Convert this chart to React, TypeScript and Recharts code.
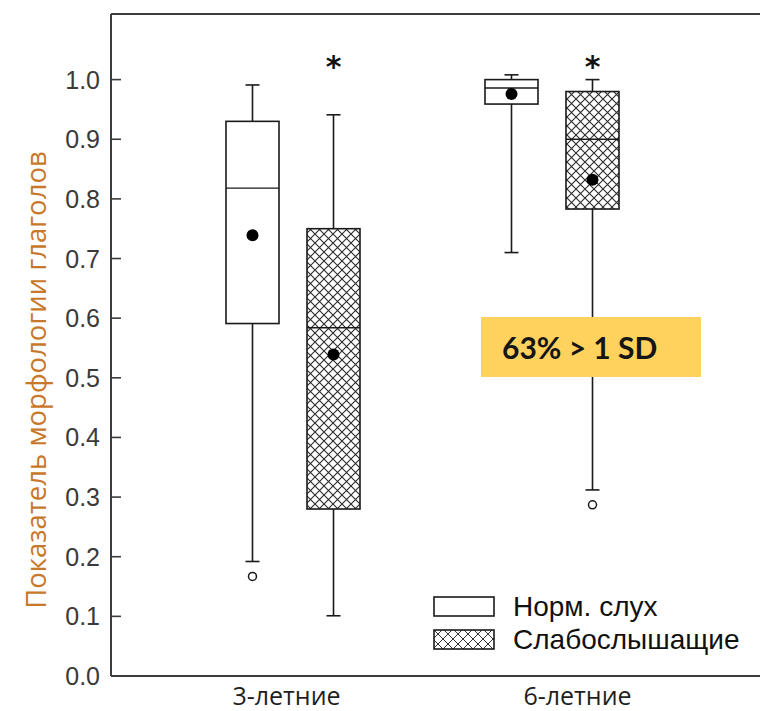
import { BarChart, Bar, XAxis, YAxis, ReferenceLine, Legend, Label } from "recharts";

// ── Data ───────────────────────────────────────────────────────────────────
const groups = ["3-летние", "6-летние"];
const yTicks = [0, 0.1, 0.2, 0.3, 0.4, 0.5, 0.6, 0.7, 0.8, 0.9, 1.0];
const legendLabels = ["Норм. слух", "Слабослышащие"];

// нормально слышащие
const normMin = [0.192, 0.71];
const normQ1 = [0.591, 0.959];
const normMedian = [0.818, 0.986];
const normQ3 = [0.93, 1.0];
const normMax = [0.991, 1.008];
const normMean = [0.739, 0.976];
const normOutliers = [[0.167], []];
const normSignif = [false, false];

// слабослышащие
const hardMin = [0.101, 0.312];
const hardQ1 = [0.28, 0.783];
const hardMedian = [0.584, 0.9];
const hardQ3 = [0.75, 0.98];
const hardMax = [0.941, 1.0];
const hardMean = [0.539, 0.832];
const hardOutliers = [[], [0.287]];
const hardSignif = [true, true];

const Y_MAX = 1.11;
const SIG_LEVEL = 1.028;
const annotation = "63% > 1 SD";

type Stats = {
  min: number; q1: number; med: number; q3: number; max: number;
  mean: number; outliers: number[]; sig: boolean;
};

const data = groups.map((g, i) => {
  const n: Stats = {
    min: normMin[i], q1: normQ1[i], med: normMedian[i], q3: normQ3[i],
    max: normMax[i], mean: normMean[i], outliers: normOutliers[i], sig: normSignif[i],
  };
  const h: Stats = {
    min: hardMin[i], q1: hardQ1[i], med: hardMedian[i], q3: hardQ3[i],
    max: hardMax[i], mean: hardMean[i], outliers: hardOutliers[i], sig: hardSignif[i],
  };
  return {
    group: g,
    n, h,
    nBase: n.min, nRange: n.max - n.min,
    hBase: h.min, hRange: h.max - h.min,
  };
});

const INK = "#1a1a1a";
const AXIS = "#3c3c3c";

// ── Box shape: whisker range bar maps every stat through the bar's scale ──
function BoxShape(props: any) {
  const { x, y, width, height, payload, series, hatched } = props;
  const s: Stats = payload[series];
  const py = (v: number) => y + (height * (s.max - v)) / (s.max - s.min);
  const cx = x + width / 2;
  const cap = 7;
  return (
    <g>
      <line x1={cx} x2={cx} y1={py(s.max)} y2={py(s.min)} stroke={INK} strokeWidth={1.6} />
      <line x1={cx - cap} x2={cx + cap} y1={py(s.max)} y2={py(s.max)} stroke={INK} strokeWidth={1.6} />
      <line x1={cx - cap} x2={cx + cap} y1={py(s.min)} y2={py(s.min)} stroke={INK} strokeWidth={1.6} />
      <rect
        x={x}
        y={py(s.q3)}
        width={width}
        height={py(s.q1) - py(s.q3)}
        fill={hatched ? "url(#hatch)" : "#fff"}
        stroke={INK}
        strokeWidth={1.6}
      />
      <line x1={x} x2={x + width} y1={py(s.med)} y2={py(s.med)} stroke={INK} strokeWidth={1.4} />
      <circle cx={cx} cy={py(s.mean)} r={6} fill="#000" />
      {s.outliers.map((o, k) => (
        <circle key={k} cx={cx} cy={py(o)} r={4} fill="#fff" stroke={INK} strokeWidth={1.5} />
      ))}
      {s.sig && (
        <text x={cx} y={py(SIG_LEVEL)} textAnchor="middle" dominantBaseline="central"
          fontSize={30} fontWeight={700} fontFamily="DejaVu Sans" fill="#111" dy={4}>
          *
        </text>
      )}
    </g>
  );
}

function YTick({ x, y, payload }: any) {
  return (
    <g>
      <text x={x} y={y} textAnchor="end" dominantBaseline="central"
        fontSize={25} fontFamily="Liberation Sans" fill="#3a3a3a">
        {Number(payload.value).toFixed(1)}
      </text>
      <line x1={x + 11} x2={x + 21} y1={y} y2={y} stroke={AXIS} strokeWidth={1.6} />
    </g>
  );
}

const xLabelShift = [-6, 26];
function XTick({ x, y, payload, index }: any) {
  return (
    <text x={x + (xLabelShift[index] ?? 0)} y={y + 27} textAnchor="middle"
      fontSize={25} fontFamily="Open Sans" fill="#1f1f1f">
      {payload.value}
    </text>
  );
}

function YLabel({ viewBox }: any) {
  const cx = viewBox.x + 35;
  const cy = viewBox.y + viewBox.height / 2 + 35;
  return (
    <text x={cx} y={cy} transform={`rotate(-90 ${cx} ${cy})`} textAnchor="middle"
      dominantBaseline="central" fontSize={27.5} fontFamily="Open Sans" fill="#C8782A">
      Показатель морфологии глаголов
    </text>
  );
}

function LegendBox() {
  return (
    <div style={{ fontFamily: "Liberation Sans", fontSize: 28, color: "#111", lineHeight: "33px" }}>
      {legendLabels.map((label, i) => (
        <div key={label} style={{ display: "flex", alignItems: "center", height: 33 }}>
          <svg width={62} height={21} style={{ marginRight: 18 }}>
            <defs>
              <pattern id="hatchLegend" width={10} height={10} patternUnits="userSpaceOnUse">
                <path d="M0 0L10 10M10 0L0 10" stroke="#333" strokeWidth={1} />
              </pattern>
            </defs>
            <rect x={1} y={1} width={60} height={19}
              fill={i === 1 ? "url(#hatchLegend)" : "#fff"} stroke={INK} strokeWidth={1.6} />
          </svg>
          <span>{label}</span>
        </div>
      ))}
    </div>
  );
}

export default function App() {
  return (
    <div style={{ position: "absolute", left: 0, top: 0, width: 762, height: 711, background: "#fff" }}>
      <BarChart
        width={762}
        height={711}
        data={data}
        margin={{ top: 14, right: 2, left: 0, bottom: 0 }}
        barSize={53}
        barGap={28}
      >
        <defs>
          <pattern id="hatch" width={9} height={9} patternUnits="userSpaceOnUse">
            <rect width={9} height={9} fill="#fff" />
            <path d="M0 0L9 9M9 0L0 9" stroke="#2a2a2a" strokeWidth={1.1} />
          </pattern>
        </defs>
        <XAxis
          dataKey="group"
          type="category"
          padding={{ left: 52, right: 79 }}
          height={35}
          tickLine={false}
          tickSize={0}
          axisLine={{ stroke: AXIS, strokeWidth: 2 }}
          tick={<XTick />}
          interval={0}
        />
        <YAxis
          domain={[0, Y_MAX]}
          ticks={yTicks}
          width={111}
          tickLine={false}
          tickSize={0}
          tickMargin={11}
          axisLine={{ stroke: AXIS, strokeWidth: 2 }}
          tick={<YTick />}
          interval={0}
        >
          <Label content={<YLabel />} />
        </YAxis>
        <ReferenceLine y={Y_MAX} stroke={AXIS} strokeWidth={2} />
        <Legend
          layout="horizontal"
          verticalAlign="middle"
          content={<LegendBox />}
          wrapperStyle={{ left: 433, top: 590, width: 328 }}
        />

        <Bar dataKey="nBase" stackId="n" fill="transparent" isAnimationActive={false} />
        <Bar dataKey="nRange" stackId="n" isAnimationActive={false}
          shape={(p: any) => <BoxShape {...p} series="n" hatched={false} />} />
        <Bar dataKey="hBase" stackId="h" fill="transparent" isAnimationActive={false} />
        <Bar dataKey="hRange" stackId="h" isAnimationActive={false}
          shape={(p: any) => <BoxShape {...p} series="h" hatched={true} />} />
      </BarChart>

      <div
        style={{
          position: "absolute", left: 481, top: 317, width: 220, height: 60,
          background: "#FFD25E", display: "flex", alignItems: "center",
          paddingLeft: 21, boxSizing: "border-box",
          fontFamily: "Lato", fontWeight: 700, fontSize: 30, color: "#151515",
        }}
      >
        {annotation}
      </div>
    </div>
  );
}
